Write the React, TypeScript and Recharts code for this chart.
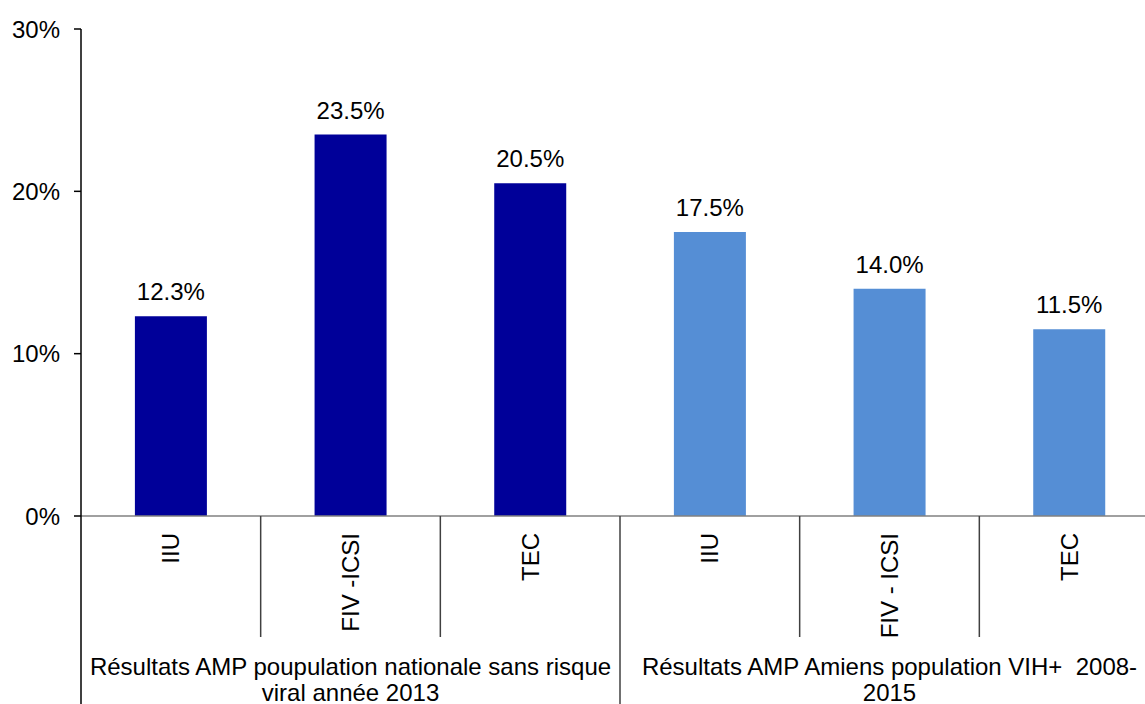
import React from "react";
import { BarChart, Bar, XAxis, YAxis, Cell, LabelList } from "recharts";

const categories = ["IIU", "FIV -ICSI", "TEC", "IIU", "FIV - ICSI", "TEC"];
const values = [12.3, 23.5, 20.5, 17.5, 14.0, 11.5];
const groupIndex = [0, 0, 0, 1, 1, 1];
const groupLabels = [
  ["Résultats AMP poupulation nationale sans risque", "viral année 2013"],
  ["Résultats AMP Amiens population VIH+  2008-", "2015"],
];
const groupColors = ["#000099", "#558ED5"];
const yTicks = [0, 10, 20, 30];

const CHART_W = 1180;
const CHART_H = 704;
const MARGIN = { top: 29, right: 21, left: 0, bottom: 0 };
const Y_AXIS_W = 81;
const X_AXIS_H = 188;
const PLOT_W = CHART_W - MARGIN.left - MARGIN.right - Y_AXIS_W;
const BAND = PLOT_W / categories.length;

const data = categories.map((c, i) => ({ id: "c" + i, label: c, value: values[i] }));

const CategoryTick = (props: any) => {
  const { x, y, payload } = props;
  const idx = payload && typeof payload.index === "number" ? payload.index : props.index;
  const ty = y + 17;
  const isGroupEnd = idx === 2 || idx === 5;
  const rightX = x + BAND / 2;
  const leftX = x - BAND / 2;
  const gi = idx === 1 ? 0 : idx === 4 ? 1 : -1;
  return (
    <g>
      <text
        x={x}
        y={ty}
        transform={`rotate(-90, ${x}, ${ty})`}
        textAnchor="end"
        dy="0.36em"
        fontSize={24}
        fill="#000"
      >
        {categories[idx]}
      </text>
      <line
        x1={rightX}
        x2={rightX}
        y1={y}
        y2={isGroupEnd ? CHART_H : y + 121}
        stroke="#404040"
        strokeWidth={1.5}
      />
      {idx === 0 && (
        <line x1={leftX} x2={leftX} y1={y} y2={CHART_H} stroke="#000" strokeWidth={1.5} />
      )}
      {gi >= 0 && (
        <text
          x={x}
          y={y + 159}
          textAnchor="middle"
          fontSize={24}
          fill="#000"
          style={{ whiteSpace: "pre" }}
          xmlSpace="preserve"
        >
          <tspan x={x} dy={0}>{groupLabels[gi][0]}</tspan>
          <tspan x={x} dy={26}>{groupLabels[gi][1]}</tspan>
        </text>
      )}
    </g>
  );
};

export default function App() {
  return (
    <div
      style={{
        position: "absolute",
        left: 0,
        top: 0,
        width: 1145,
        height: 704,
        overflow: "hidden",
        background: "#fff",
        fontFamily: "'Liberation Sans', Arial, sans-serif",
      }}
    >
      <BarChart width={CHART_W} height={CHART_H} data={data} margin={MARGIN} barCategoryGap="30%">
        <XAxis
          dataKey="id"
          height={X_AXIS_H}
          interval={0}
          tickLine={false}
          tickSize={0}
          tickMargin={0}
          axisLine={{ stroke: "#808080", strokeWidth: 1.5 }}
          tick={<CategoryTick />}
        />
        <YAxis
          width={Y_AXIS_W}
          domain={[0, 30]}
          ticks={yTicks}
          interval={0}
          tickFormatter={(v: number) => `${v}%`}
          axisLine={{ stroke: "#000", strokeWidth: 1.5 }}
          tickLine={{ stroke: "#000", strokeWidth: 1.5 }}
          tickSize={7}
          tickMargin={14}
          tick={{ fontSize: 24, fill: "#000" }}
        />
        <Bar dataKey="value" isAnimationActive={false}>
          {data.map((d, i) => (
            <Cell key={d.id} fill={groupColors[groupIndex[i]]} />
          ))}
          <LabelList
            dataKey="value"
            position="top"
            offset={16}
            formatter={(v: number) => `${v.toFixed(1)}%`}
            style={{ fontSize: 24, fill: "#000" }}
          />
        </Bar>
      </BarChart>
    </div>
  );
}
